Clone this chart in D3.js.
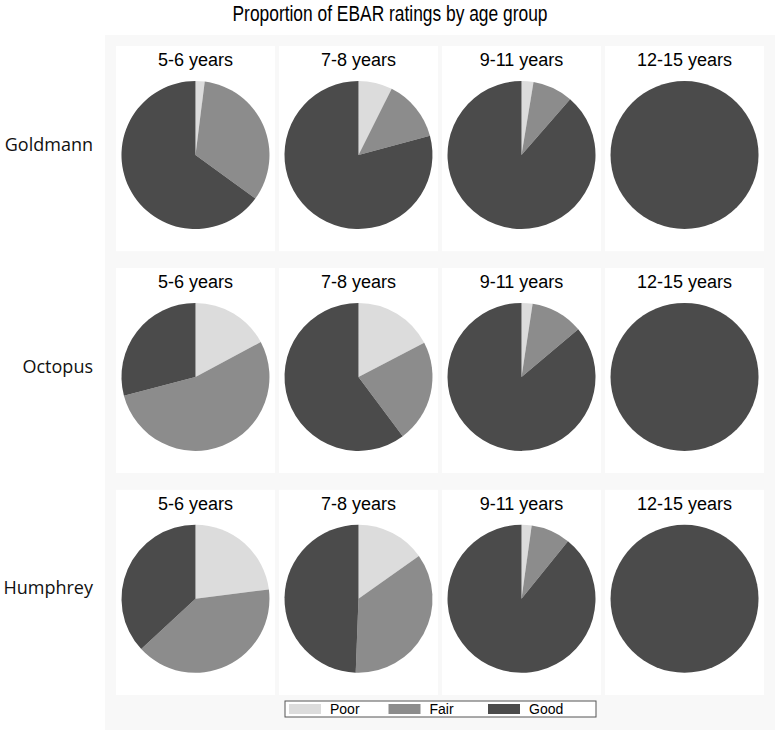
<!DOCTYPE html>
<html>
<head>
<meta charset="utf-8">
<script src="https://cdn.jsdelivr.net/npm/d3@7"></script>
<style>
  html, body { margin: 0; padding: 0; background: #ffffff; }
  svg { display: block; }
</style>
</head>
<body>
<svg id="chart" width="778" height="732"></svg>
<script>
var devices = ["Goldmann", "Octopus", "Humphrey"];
var ageGroups = ["5-6 years", "7-8 years", "9-11 years", "12-15 years"];
var ratings = ["Poor", "Fair", "Good"];
var ratingColors = ["#dcdcdc", "#8c8c8c", "#4b4b4b"];

// percent of Poor / Fair / Good per age group, one array per device
var goldmann = [[2.0, 33.0, 65.0], [7.4, 13.4, 79.2], [2.6, 8.8, 88.6], [0, 0, 100]];
var octopus  = [[17.2, 53.7, 29.1], [17.4, 22.4, 60.2], [2.4, 11.5, 86.1], [0, 0, 100]];
var humphrey = [[23.0, 40.1, 36.9], [15.2, 35.4, 49.4], [2.2, 8.6, 89.2], [0, 0, 100]];
var deviceValues = [goldmann, octopus, humphrey];

var svg = d3.select("#chart");

svg.append("rect")
  .attr("x", 105).attr("y", 35)
  .attr("width", 670).attr("height", 695)
  .attr("fill", "#f8f8f8");

svg.append("text")
  .attr("x", 390).attr("y", 21)
  .attr("text-anchor", "middle")
  .attr("font-family", "Liberation Sans Narrow, Arial Narrow, Liberation Sans, sans-serif")
  .attr("font-size", 22)
  .attr("textLength", 315)
  .attr("lengthAdjust", "spacingAndGlyphs")
  .attr("fill", "#000")
  .text("Proportion of EBAR ratings by age group");

var x = d3.scaleBand().domain(ageGroups).range([116, 764]).paddingInner(0.025);
var y = d3.scaleBand().domain(devices).range([46, 695]).paddingInner(0.075);
var color = d3.scaleOrdinal().domain(ratings).range(ratingColors);
var pie = d3.pie().sort(null).value(function (d) { return d; });
var arc = d3.arc().innerRadius(0).outerRadius(74);

devices.forEach(function (device, i) {
  svg.append("text")
    .attr("x", 93)
    .attr("y", y(device) + y.bandwidth() / 2 + 2)
    .attr("text-anchor", "end")
    .attr("font-family", "Open Sans, sans-serif")
    .attr("font-size", 18)
    .attr("fill", "#111")
    .text(device);

  ageGroups.forEach(function (age, j) {
    var cell = svg.append("g")
      .attr("transform", "translate(" + x(age) + "," + y(device) + ")");

    cell.append("rect")
      .attr("width", x.bandwidth())
      .attr("height", y.bandwidth())
      .attr("fill", "#ffffff");

    cell.append("text")
      .attr("x", x.bandwidth() / 2)
      .attr("y", 20)
      .attr("text-anchor", "middle")
      .attr("font-family", "Liberation Sans, Arial, sans-serif")
      .attr("font-size", 18)
      .attr("fill", "#000")
      .text(age);

    cell.append("g")
      .attr("transform", "translate(" + (x.bandwidth() / 2) + ",109)")
      .selectAll("path")
      .data(pie(deviceValues[i][j]))
      .join("path")
      .attr("d", arc)
      .attr("fill", function (d, k) { return color(ratings[k]); });
  });
});

// legend
var legend = svg.append("g").attr("transform", "translate(285,701)");
legend.append("rect")
  .attr("width", 311).attr("height", 16)
  .attr("fill", "#ffffff")
  .attr("stroke", "#555").attr("stroke-width", 1);

var legendX = d3.scalePoint().domain(ratings).range([4, 203]);
var item = legend.selectAll("g.item")
  .data(ratings)
  .join("g")
  .attr("class", "item")
  .attr("transform", function (d) { return "translate(" + legendX(d) + ",0)"; });
item.append("rect")
  .attr("y", 3).attr("width", 32).attr("height", 10)
  .attr("fill", function (d) { return color(d); });
item.append("text")
  .attr("x", 41).attr("y", 13)
  .attr("font-family", "Liberation Sans, Arial, sans-serif")
  .attr("font-size", 14)
  .attr("fill", "#000")
  .text(function (d) { return d; });
</script>
</body>
</html>
